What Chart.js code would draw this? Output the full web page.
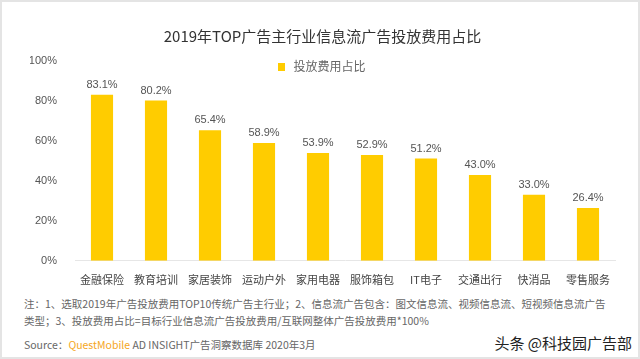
<!DOCTYPE html>
<html>
<head>
<meta charset="utf-8">
<script src="https://cdn.jsdelivr.net/npm/chart.js@4"></script>
<style>
  body { margin: 0; background: #fff; font-family: "Noto Sans CJK SC", "Noto Sans", sans-serif; }
  #wrap { position: relative; width: 640px; height: 359px; box-sizing: border-box; border: 2px solid #e4e4e4; overflow: hidden; }
  #chartBox { position: absolute; left: -2px; top: -2px; width: 640px; height: 290px; }
  #legend { position: absolute; left: 0; width: 640px; top: 55px; text-align: center; font-size: 12px; color: #666; }
  #legend i { display: inline-block; width: 7px; height: 8px; background: #ffcc00; margin-right: 8px; vertical-align: 0px; }
  .note { position: absolute; left: 22px; font-size: 10.5px; color: #666; white-space: nowrap; }
  .note b { font-weight: normal; color: #f5a623; }
  #brand { position: absolute; right: 6px; top: 330px; font-size: 15px; color: #222; }
</style>
</head>
<body>
<div id="wrap">
  <div id="chartBox"><canvas id="myChart" width="640" height="290"></canvas></div>
  <div id="legend"><i></i>投放费用占比</div>
  <div class="note" style="top:294px">注：1、选取2019年广告投放费用TOP10传统广告主行业；2、信息流广告包含：图文信息流、视频信息流、短视频信息流广告</div>
  <div class="note" style="top:311px">类型；3、投放费用占比=目标行业信息流广告投放费用/互联网整体广告投放费用*100%</div>
  <div class="note" style="top:335px">Source：<b>QuestMobile</b> AD INSIGHT广告洞察数据库 2020年3月</div>
  <div id="brand">头条 @科技园广告部</div>
</div>
<script>
const categories = ["金融保险", "教育培训", "家居装饰", "运动户外", "家用电器", "服饰箱包", "IT电子", "交通出行", "快消品", "零售服务"];
const shares = [83.1, 80.2, 65.4, 58.9, 53.9, 52.9, 51.2, 43.0, 33.0, 26.4];
const yTicks = [0, 20, 40, 60, 80, 100];

// value labels above bars
const barLabels = {
  id: "barLabels",
  afterDatasetsDraw(chart) {
    const c = chart.ctx;
    c.save();
    c.font = "11px 'Liberation Sans', Arial, sans-serif";
    c.fillStyle = "#555";
    c.textAlign = "center";
    c.textBaseline = "middle";
    chart.getDatasetMeta(0).data.forEach((bar, i) => {
      c.fillText(shares[i].toFixed(1) + "%", bar.x, bar.y - 10);
    });
    c.restore();
  },
};

const ctx = document.getElementById("myChart");
const chart = new Chart(ctx, {
  type: "bar",
  data: {
    labels: categories,
    datasets: [
      {
        label: "投放费用占比",
        data: shares,
        backgroundColor: "#ffcc00",
        barPercentage: 0.82,
        categoryPercentage: 0.5,
      },
    ],
  },
  options: {
    responsive: false,
    animation: false,
    layout: { padding: { top: 27, right: 25, left: 30, bottom: 0 } },
    plugins: {
      legend: { display: false },
      tooltip: { enabled: false },
      title: {
        display: true,
        text: "2019年TOP广告主行业信息流广告投放费用占比",
        color: "#333",
        font: { size: 15, family: "'Noto Sans CJK SC', sans-serif", weight: "normal" },
        padding: { top: 0, bottom: 16 },
      },
    },
    scales: {
      x: {
        grid: { display: false },
        border: { color: "#e6e6e6" },
        ticks: { color: "#444", font: { size: 11, family: "'Noto Sans CJK SC', sans-serif" }, padding: 4, maxRotation: 0 },
      },
      y: {
        min: 0,
        max: 100,
        afterBuildTicks: (axis) => { axis.ticks = yTicks.map((v) => ({ value: v })); },
        afterFit: (axis) => { axis.width = 45; },
        grid: { display: false },
        border: { display: false },
        ticks: {
          color: "#555",
          padding: 10,
          font: { size: 11, family: "'Liberation Sans', Arial, sans-serif" },
          callback: (v) => v + "%",
        },
      },
    },
  },
  plugins: [barLabels],
});
</script>
</body>
</html>
